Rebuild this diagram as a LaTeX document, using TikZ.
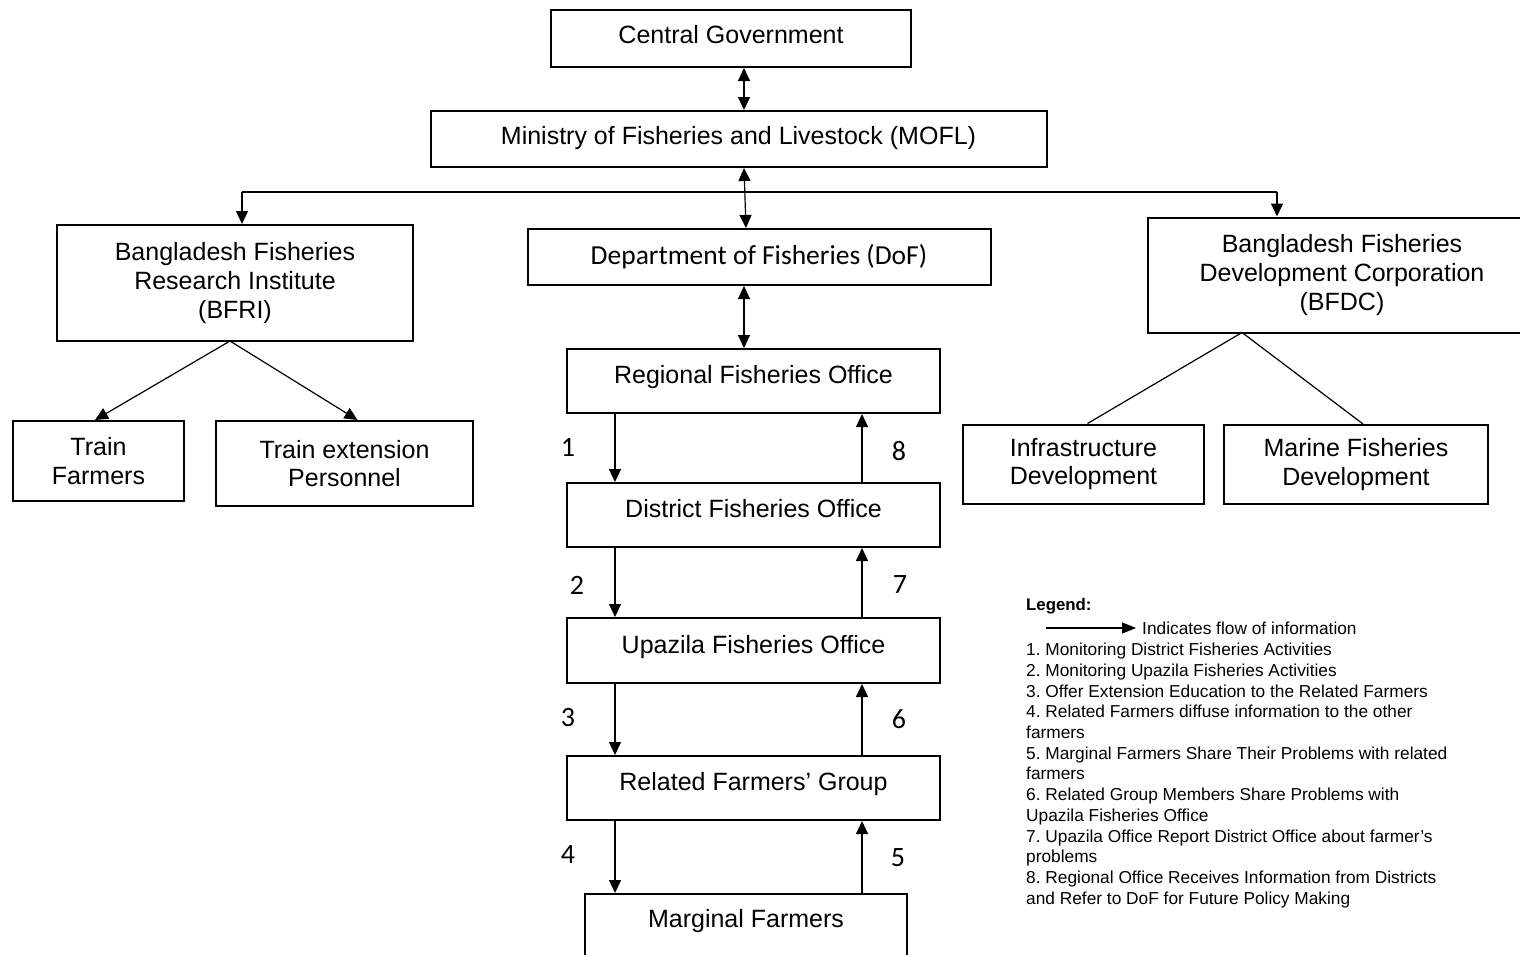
\documentclass[tikz,border=0pt]{standalone}
\usepackage{fontspec}
\setmainfont{Liberation Sans}
\newfontfamily\calfont{Carlito}
\usetikzlibrary{arrows.meta}
\frenchspacing
\begin{document}
\begin{tikzpicture}[x=1pt,y=-1pt]
\tikzset{
  bx/.style={draw, line width=2pt, inner sep=0pt, align=center, font=\fontsize{25}{28.8}\selectfont},
  chain/.style={bx, minimum width=373pt, text height=18pt, text depth=13pt},
  con/.style={line width=1.2pt},
  tip/.tip={Triangle[width=12pt,length=13pt]},
  arr/.style={con, -tip},
  dbl/.style={con, tip-tip},
  num/.style={font=\calfont\fontsize{28}{30}\selectfont, inner sep=0pt},
  leg/.style={font=\fontsize{17.3}{20.7}\selectfont, inner sep=0pt, align=left},
}
\useasboundingbox (0,0) rectangle (1520,954);
\fill[white] (0,0) rectangle (1520,954);
% top
\node[bx, minimum width=360pt, minimum height=57pt, text height=18pt, text depth=8pt] (cg) at (731,38.5) {Central Government};
\node[bx, minimum width=616pt, minimum height=56pt, text height=18pt, text depth=8pt] (mofl) at (738.5,139) {Ministry of Fisheries and Livestock (MOFL)};
\node[bx, minimum width=463pt, minimum height=56pt, font=\calfont\fontsize{27.5}{30}\selectfont] (dof) at (759,257) {Department of Fisheries (DoF)};
% left branch
\node[bx, minimum width=356pt, minimum height=116pt] (bfri) at (235,283) {Bangladesh Fisheries\\Research Institute\\(BFRI)};
\node[bx, minimum width=171pt, minimum height=80pt] (tf) at (98.5,461) {Train\\Farmers};
\node[bx, minimum width=257pt, minimum height=85pt] (tep) at (344.5,463.5) {Train extension\\Personnel};
% right branch
\node[bx, minimum width=388pt, minimum height=115pt] (bfdc) at (1342,275) {Bangladesh Fisheries\\Development Corporation\\(BFDC)};
\node[bx, minimum width=241pt, minimum height=79pt] (inf) at (1083.5,464) {Infrastructure\\Development};
\node[bx, minimum width=264pt, minimum height=79pt] (mar) at (1356,464.5) {Marine Fisheries\\Development};
% centre chain
\node[chain, minimum height=64pt] (reg) at (753.5,381) {Regional Fisheries Office};
\node[chain, minimum height=64pt] (dist) at (753.5,515) {District Fisheries Office};
\node[chain, minimum height=65pt] (upa) at (753.5,650.5) {Upazila Fisheries Office};
\node[chain, minimum height=64pt] (rfg) at (753.5,788) {Related Farmers’ Group};
\node[bx, minimum width=322pt, anchor=north, text height=33pt, text depth=60pt] (marg) at (746,893) {Marginal Farmers};
% coordinates
\coordinate (ax) at (744,0);
\coordinate (hl) at (242,192);
\coordinate (hr) at (1277,192);
\coordinate (dx) at (615,0);
\coordinate (ux) at (862,0);
% connectors top
\draw[dbl] (cg.south -| ax) -- (mofl.north -| ax);
\draw[dbl] (mofl.south -| ax) -- ([xshift=2pt]dof.north -| ax);
\draw[dbl] (dof.south -| ax) -- (reg.north -| ax);
\draw[con] (hl) -- (hr);
\draw[arr] (hl) -- (hl |- bfri.north);
\draw[arr] (hr) -- (hr |- bfdc.north);
% BFRI / BFDC children
\coordinate (bs) at (230,341);
\coordinate (ds) at (1242,332.5);
\draw[arr] (bs) -- ([xshift=-3.5pt]tf.north);
\draw[arr] (bs) -- ([xshift=13pt]tep.north);
\draw[con] (ds) -- ([xshift=4pt]inf.north);
\draw[con] (ds) -- ([xshift=7pt]mar.north);
% flow chain
\draw[arr] (reg.south -| dx) -- (dist.north -| dx);
\draw[arr] (dist.south -| dx) -- (upa.north -| dx);
\draw[arr] (upa.south -| dx) -- (rfg.north -| dx);
\draw[arr] (rfg.south -| dx) -- (marg.north -| dx);
\draw[arr] (marg.north -| ux) -- (rfg.south -| ux);
\draw[arr] (rfg.north -| ux) -- (upa.south -| ux);
\draw[arr] (upa.north -| ux) -- (dist.south -| ux);
\draw[arr] (dist.north -| ux) -- (reg.south -| ux);
% numbers
\node[num] (n1) at (568,447) {1};
\node[num] (n2) at (577,585) {2};
\node[num] (n3) at (568,717) {3};
\node[num] (n4) at (568,854) {4};
\node[num] (n5) at (898,858) {5};
\node[num] (n6) at (899,719) {6};
\node[num] (n7) at (900,585) {7};
\node[num] (n8) at (899,451) {8};
% legend
\node[leg, anchor=west, font=\bfseries\fontsize{16.8}{20.7}\selectfont] (lt) at (1026,606) {Legend:};
\coordinate (la1) at (1046,628);
\coordinate (la2) at (1136,628);
\draw[con, -{Triangle[width=11pt,length=14pt]}] (la1) -- (la2);
\node[leg, anchor=west] (lf) at (1142,628) {Indicates flow of information};
\node[leg, anchor=north west] (ll) at (1026,643) {1. Monitoring District Fisheries Activities\\
2. Monitoring Upazila Fisheries Activities\\
3. Offer Extension Education to the Related Farmers\\
4. Related Farmers diffuse information to the other\\
farmers\\
5. Marginal Farmers Share Their Problems with related\\
farmers\\
6. Related Group Members Share Problems with\\
Upazila Fisheries Office\\
7. Upazila Office Report District Office about farmer’s\\
problems\\
8. Regional Office Receives Information from Districts\\
and Refer to DoF for Future Policy Making};
\end{tikzpicture}
\end{document}
